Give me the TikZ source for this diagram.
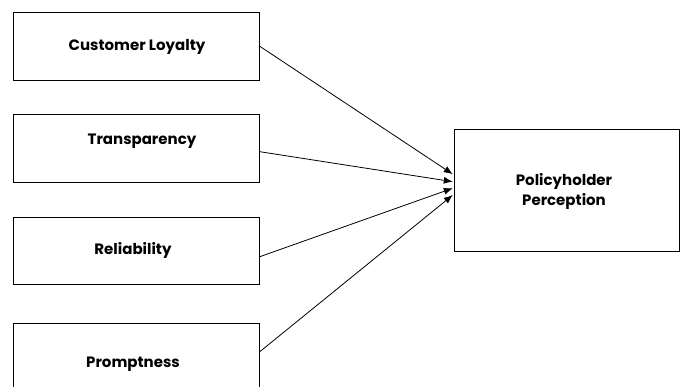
\documentclass[tikz,border=0pt]{standalone}
\usepackage{fontspec}
\setmainfont{Poppins}
\usepackage{tikz}
\usetikzlibrary{arrows.meta}

\begin{document}
\begin{tikzpicture}[x=1pt,y=-1pt,
            box/.style={shape=rectangle, draw, line width=1pt, minimum width=246pt, minimum height=67.5pt, inner sep=0pt},
            bigbox/.style={shape=rectangle, draw, line width=1pt, minimum width=225pt, minimum height=121.7pt, inner sep=0pt},
            lbl/.style={font=\bfseries\fontsize{15}{20}\selectfont, align=center, inner sep=0pt},
            link/.style={line width=0.8pt, -{Latex[length=9pt,width=7pt]}}]
				\clip (0,0) rectangle (686,387);

				\node[box] (loyal) at (136.3,46.3) {};
				\node[box] (trans) at (136.3,148.7) {};
				\node[box] (relia) at (136.3,251.2) {};
				\node[box] (promp) at (136.3,357.1) {};
				\node[bigbox] (perc) at (566.8,190.2) {};

				\node[lbl] (tloyal) at (137,46.7) {Customer Loyalty};
				\node[lbl] (ttrans) at (142,141.7) {Transparency};
				\node[lbl] (trelia) at (133,250) {Reliability};
				\node[lbl] (tpromp) at (133,364) {Promptness};
				\node[lbl] (tperc) at (564,191.7) {Policyholder\\Perception};

				\draw[link] (loyal.east) -- ([yshift=16pt,xshift=-1pt]perc.west);
				\draw[link] ([yshift=-3pt]trans.east) -- ([yshift=8.5pt,xshift=-1pt]perc.west);
				\draw[link] ([yshift=-5.5pt]relia.east) -- ([yshift=2pt,xshift=-1pt]perc.west);
				\draw[link] ([yshift=5.4pt]promp.east) -- ([yshift=-4.8pt,xshift=-1pt]perc.west);
 		\end{tikzpicture}
\end{document}
